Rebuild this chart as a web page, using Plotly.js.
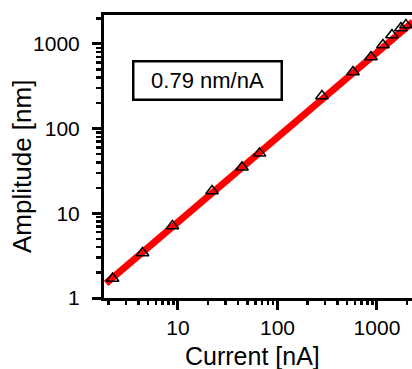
<!DOCTYPE html>
<html>
<head>
<meta charset="utf-8">
<script src="https://cdn.plot.ly/plotly-3.0.1.min.js"></script>
<style>html,body{margin:0;padding:0;background:#fff;}#chart{width:412px;height:369px;}</style>
</head>
<body>
<div id="chart"></div>
<script>
// Measured points
const currentNA = [2.2, 4.4, 8.8, 22, 44, 66, 280, 574, 871, 1148, 1415, 1741, 1955];
const amplitudeNM = [1.7, 3.4, 7.1, 18.3, 35, 51, 243, 466, 700, 971, 1274, 1541, 1671];
// Fit line (0.79 nm/nA) endpoints
const fitX = [1.89, 2300];
const fitY = [1.49, 1817];
const xTickVals = [10, 100, 1000];
const xTickText = ['10', '100', '1000'];
const yTickVals = [1, 10, 100, 1000];
const yTickText = ['1', '10', '100', '1000'];
const slopeLabel = '0.79 nm/nA';
const xTitle = 'Current [nA]';
const yTitle = 'Amplitude [nm]';

const font = 'Arial, "Liberation Sans", sans-serif';

const traces = [
  {x: fitX, y: fitY, mode: 'lines', type: 'scatter',
   line: {color: '#ff0000', width: 7}, hoverinfo: 'skip'},
  {x: currentNA, y: amplitudeNM, mode: 'markers', type: 'scatter',
   marker: {symbol: 'triangle-up-open', size: 11, color: '#000', line: {width: 1.5, color: '#000'}}}
];

const layout = {
  width: 412, height: 369,
  margin: {l: 104, r: 0, t: 15, b: 71},
  paper_bgcolor: '#fff', plot_bgcolor: '#fff',
  showlegend: false,
  font: {family: font, color: '#000'},
  xaxis: {
    type: 'log', range: [0.2563, 3.352],
    tickvals: xTickVals, ticktext: xTickText,
    ticks: 'outside', ticklen: 9, tickwidth: 3, tickcolor: '#000',
    showline: true, linewidth: 3, linecolor: '#000', mirror: true,
    showgrid: false, zeroline: false,
    tickfont: {family: font, size: 21, color: '#000'},
    ticklabelstandoff: 0,
    minor: {ticks: 'outside', ticklen: 4, tickwidth: 2.5, tickcolor: '#000', dtick: 'D1', showgrid: false}
  },
  yaxis: {
    type: 'log', range: [0, 3.341],
    tickvals: yTickVals, ticktext: yTickText,
    ticks: 'outside', ticklen: 9, tickwidth: 3, tickcolor: '#000',
    showline: true, linewidth: 3, linecolor: '#000',
    showgrid: false, zeroline: false,
    tickfont: {family: font, size: 21, color: '#000'},
    ticklabelstandoff: 8,
    minor: {ticks: 'outside', ticklen: 5, tickwidth: 2.5, tickcolor: '#000', dtick: 'D1', showgrid: false}
  },
  annotations: [
    {
      xref: 'paper', yref: 'paper', x: 0.336, y: 0.770,
      xanchor: 'center', yanchor: 'middle',
      text: slopeLabel, showarrow: false,
      font: {family: font, size: 22, color: '#000'},
      bordercolor: '#000', borderwidth: 2.5, borderpad: 0,
      width: 146, height: 36, bgcolor: '#fff'
    },
    {
      xref: 'paper', yref: 'paper', x: (252.5 - 104) / 308, y: (298 - 356) / 283,
      xanchor: 'center', yanchor: 'middle',
      text: xTitle, showarrow: false,
      font: {family: font, size: 25, color: '#000'}
    },
    {
      xref: 'paper', yref: 'paper', x: (22 - 104) / 308, y: (298 - 167) / 283,
      xanchor: 'center', yanchor: 'middle', textangle: -90,
      text: yTitle, showarrow: false,
      font: {family: font, size: 26, color: '#000'}
    }
  ]
};

Plotly.newPlot('chart', traces, layout, {staticPlot: true, displayModeBar: false});
</script>
</body>
</html>
